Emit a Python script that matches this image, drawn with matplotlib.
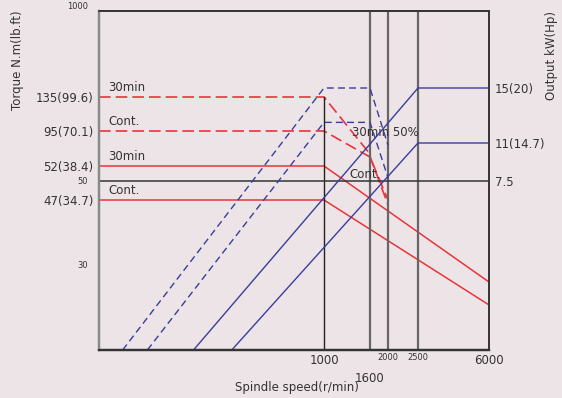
import numpy as np
import matplotlib
matplotlib.use("Agg")
import matplotlib.pyplot as plt

# schematic axis knots (value -> relative position along the axis)
speed_knots = [0, 1000, 1600, 2000, 2500, 6000]
speed_pos = [0, 225, 271, 289, 319, 390]
torque_knots = [20, 30, 47, 50, 52, 95, 135, 1000]
torque_pos = [0, 85, 150, 169, 184, 219, 253, 339]
power_knots = [0, 7.5, 11, 15, 20]
power_pos = [0, 169, 207, 262, 339]

# torque curves (speed, N.m)
t30_dash_x = [0, 1000, 1580, 2000]
t30_dash_y = [135, 135, 69, 45.7]
tcont_dash_x = [0, 1000, 1600, 2000]
tcont_dash_y = [95, 95, 63, 47]
t30_x = [0, 1000, 6000]
t30_y = [52, 52, 28]
tcont_x = [0, 1000, 6000]
tcont_y = [47, 47, 25.3]

# power curves (speed, kW)
p30_dash_x = [105, 1000, 1600, 2000]
p30_dash_y = [0, 15, 15, 10.8]
pcont_dash_x = [215, 1000, 1600, 2000]
pcont_dash_y = [0, 12.5, 12.5, 7.8]
p30_x = [420, 2500, 6000]
p30_y = [0, 15, 15]
pcont_x = [590, 2500, 6000]
pcont_y = [0, 11, 11]

left_ticks = [30, 47, 50, 52, 95, 135, 1000]
left_labels = ["30", "47(34.7)", "50", "52(38.4)", "95(70.1)", "135(99.6)", "1000"]
right_ticks = [7.5, 11, 15]
right_labels = ["7.5", "11(14.7)", "15(20)"]
x_ticks = [1000, 1600, 2000, 2500, 6000]
x_labels = ["1000", "1600", "2000", "2500", "6000"]

bg = "#ede4e7"
red = "#e8343a"
blue = "#3b3d9c"
txt = "#333333"


def mk(knots, pos):
    return (lambda v: np.interp(v, knots, pos), lambda p: np.interp(p, pos, knots))


fig = plt.figure(figsize=(5.62, 3.98), dpi=100)
fig.patch.set_facecolor(bg)
ax = fig.add_axes([99 / 562, 1 - 350 / 398, 390 / 562, 339 / 398])
ax.set_facecolor(bg)
ax.set_xscale("function", functions=mk(speed_knots, speed_pos))
ax.set_yscale("function", functions=mk(torque_knots, torque_pos))
ax2 = ax.twinx()
ax2.set_yscale("function", functions=mk(power_knots, power_pos))

# torque
ax.plot(t30_dash_x, t30_dash_y, color=red, lw=1.2, dashes=(7, 3))
ax.plot(tcont_dash_x, tcont_dash_y, color=red, lw=1.2, dashes=(7, 3))
ax.plot(t30_x, t30_y, color=red, lw=1.1)
ax.plot(tcont_x, tcont_y, color=red, lw=1.1)

# grid-ish lines
ax.plot([1000, 1000], [135, 20], color="#222222", lw=1.0)
for s in [1600, 2000, 2500]:
    ax.axvline(s, color="#666666", lw=1.6)
ax.axhline(50, color="#333333", lw=1.1)

# power
ax2.plot(p30_dash_x, p30_dash_y, color=blue, lw=1.0, dashes=(5, 3))
ax2.plot(pcont_dash_x, pcont_dash_y, color=blue, lw=1.0, dashes=(5, 3))
ax2.plot(p30_x, p30_y, color=blue, lw=1.0)
ax2.plot(pcont_x, pcont_y, color=blue, lw=1.0)

ax.set_xlim(0, 6000)
ax.set_ylim(20, 1000)
ax2.set_ylim(0, 20)

ax.set_xticks(x_ticks)
ax.set_xticklabels(x_labels)
ax.set_yticks(left_ticks)
ax.set_yticklabels(left_labels)
ax2.set_yticks(right_ticks)
ax2.set_yticklabels(right_labels)
ax.minorticks_off()
ax2.minorticks_off()
ax.tick_params(length=0, colors=txt, labelsize=8.5, pad=4)
ax2.tick_params(length=0, colors=txt, labelsize=8.5, pad=4)
ax.tick_params(axis="x", pad=3)

for t, lab in zip(ax.yaxis.get_major_ticks(), left_labels):
    if lab in ("30", "50", "1000"):
        t.label1.set_fontsize(6)
        t.set_pad(8)
ax.yaxis.get_major_ticks()[-1].label1.set_va("bottom")

for t, lab in zip(ax.xaxis.get_major_ticks(), x_labels):
    if lab in ("2000", "2500"):
        t.label1.set_fontsize(6)
        t.set_pad(2)
    if lab == "1600":
        t.set_pad(16)

for a in (ax, ax2):
    for k, sp in a.spines.items():
        sp.set_color("#333333")
        sp.set_linewidth(1.2)
    a.spines["left"].set_color("#888888")
    a.spines["left"].set_linewidth(1.6)
    a.spines["bottom"].set_linewidth(1.6)

# annotations
for yv, s in [(135, "30min"), (95, "Cont."), (52, "30min"), (47, "Cont.")]:
    ax.annotate(s, (40, yv), xytext=(0, 2), textcoords="offset points",
                fontsize=8.5, color=txt, va="bottom", ha="left")
ax.text(1360, 93, "30min 50%", fontsize=8.5, color=txt, va="center", ha="left")
ax.text(1330, 50.9, "Cont.", fontsize=8.5, color=txt, va="center", ha="left")

fig.text(297 / 562, 1 - 388 / 398, "Spindle speed(r/min)", fontsize=8.5,
         color=txt, ha="center", va="center")
fig.text(18 / 562, 1 - 60 / 398, "Torque N.m(lb.ft)", fontsize=8.5,
         color=txt, ha="center", va="center", rotation=90)
fig.text(551 / 562, 1 - 55 / 398, "Output kW(Hp)", fontsize=8.5,
         color=txt, ha="center", va="center", rotation=90)

fig.savefig("out.png", dpi=100, facecolor=bg)
